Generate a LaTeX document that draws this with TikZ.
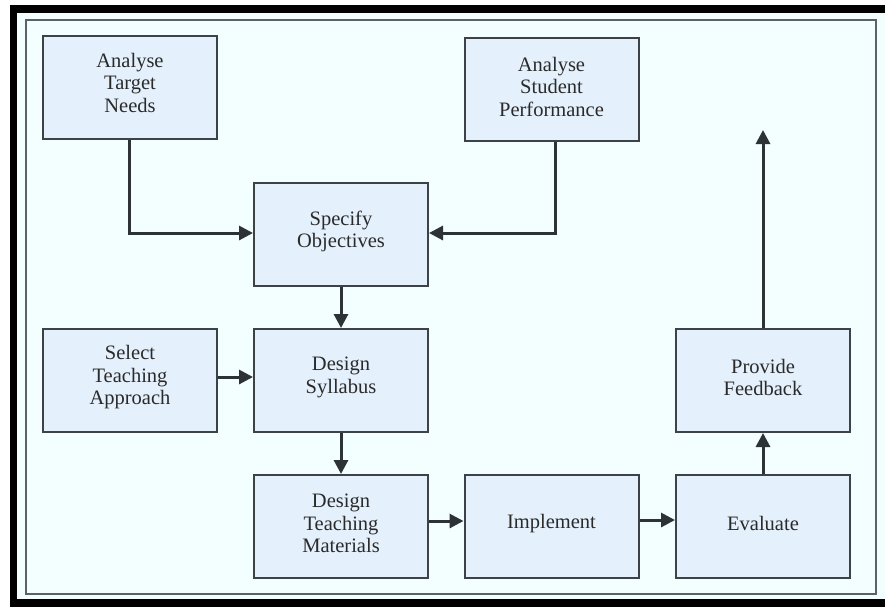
\documentclass[tikz,border=0pt]{standalone}
\usepackage{fontspec}
\setmainfont{Liberation Serif}
\usetikzlibrary{arrows.meta}
\definecolor{bgc}{HTML}{F3FEFF}
\definecolor{boxfill}{HTML}{E4F0FB}
\definecolor{boxline}{HTML}{3C4247}
\definecolor{arr}{HTML}{2D3237}
\definecolor{frame}{HTML}{5A6268}
\definecolor{txt}{HTML}{2A2A2A}
\tikzset{
  stepbox/.style={draw=boxline, line width=2pt, fill=boxfill, minimum width=174pt, minimum height=103pt,
    inner sep=0pt},
  lbl/.style={text=txt, align=center, font=\fontsize{20.5}{22.5}\selectfont, yshift=3pt},
  flow/.style={draw=arr, line width=3pt, -{Triangle[length=14pt,width=14pt]}}
}
\begin{document}
\begin{tikzpicture}[x=1pt,y=-1pt]
\useasboundingbox (0,0) rectangle (885,606);
\fill[white] (0,0) rectangle (885,606);
\fill[black] (10,5) rectangle (895,616);
\fill[bgc] (17,13) rectangle (885,599);
\draw[frame, line width=1.5pt, fill=bgc] (26,20) rectangle (876,594);

\node[stepbox] (atn) at (130,87.5) {};
\node[stepbox] (asp) at (551.5,89.5) {};
\node[stepbox] (so) at (341,234.5) {};
\node[stepbox] (sta) at (130,380.5) {};
\node[stepbox] (ds) at (341,380.5) {};
\node[stepbox] (dtm) at (341,526.5) {};
\node[stepbox] (imp) at (551.5,526.5) {};
\node[stepbox] (ev) at (763,526.5) {};
\node[stepbox] (pf) at (763,380.5) {};

\node[lbl] (atnt) at (atn.center) [yshift=2pt] {Analyse\\Target\\Needs};
\node[lbl] (aspt) at (asp.center) {Analyse\\Student\\Performance};
\node[lbl] (sot) at (so.center) {Specify\\Objectives};
\node[lbl] (stat) at (sta.center) {Select\\Teaching\\Approach};
\node[lbl] (dst) at (ds.center) {Design\\Syllabus};
\node[lbl] (dtmt) at (dtm.center) {Design\\Teaching\\Materials};
\node[lbl] (impt) at (imp.center) {Implement};
\node[lbl] (evt) at (ev.center) {Evaluate};
\node[lbl] (pft) at (pf.center) {Provide\\Feedback};

\coordinate (top) at (763,130);
\draw[flow] (atn.south -| 129,0) |- (so.west |- 0,233);
\draw[flow] (asp.south -| 555,0) |- (so.east |- 0,233);
\draw[flow] (so) -- (ds);
\draw[flow] (sta.east |- 0,377) -- (ds.west |- 0,377);
\draw[flow] (ds) -- (dtm);
\draw[flow] (dtm.east |- 0,521) -- (imp.west |- 0,521);
\draw[flow] (imp.east |- 0,520) -- (ev.west |- 0,520);
\draw[flow] (ev) -- (pf);
\draw[flow] (pf) -- (top);
\end{tikzpicture}
\end{document}
